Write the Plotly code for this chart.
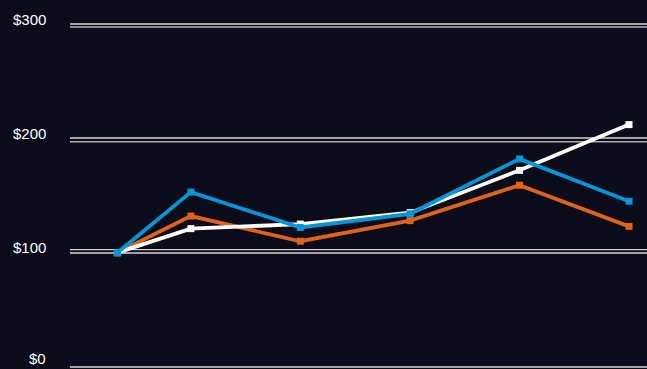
import plotly.graph_objects as go

periods = ["2018-04-30", "2018-12-31", "2019-12-31", "2020-12-31", "2021-12-31", "2022-12-31"]
series_white = [100, 121, 125, 135, 172, 212]
series_blue = [100, 153, 122, 134, 182, 145]
series_orange = [100, 132, 110, 128, 159, 123]
tick_vals = [0, 100, 200, 300]
tick_text = ["$0", "$100", "$200", "$300"]

BG = "#0b0b1a"
fig = go.Figure()

def add(vals, color):
    fig.add_trace(go.Scatter(
        x=periods, y=vals, mode="lines+markers",
        line=dict(color=color, width=3.8),
        marker=dict(symbol="square", size=7, color=color),
        showlegend=False, hoverinfo="skip"))

add(series_orange, "#e0621c")
add(series_white, "#ffffff")
add(series_blue, "#0096d8")

# white companion lines next to grid lines (pixel offsets, negative = below)
offsets = {300: -3, 200: -3.5, 100: 3, 0: -3}
for v, label in zip(tick_vals, tick_text):
    fig.add_shape(type="line", xref="paper", x0=0, x1=1, yref="y",
                  ysizemode="pixel", yanchor=v, y0=offsets[v], y1=offsets[v],
                  line=dict(color="#ffffff", width=1), layer="below")
    if v == 0:
        anchor, shift = "bottom", -1
    else:
        anchor, shift = "middle", 5
    fig.add_annotation(xref="paper", x=0, xanchor="right", xshift=-23,
                       yref="y", y=v, yanchor=anchor, yshift=shift, showarrow=False,
                       text=label, borderpad=0,
                       font=dict(family="Liberation Sans, Arial", size=15, color="#ffffff"))

fig.update_layout(
    width=647, height=369,
    paper_bgcolor=BG, plot_bgcolor=BG,
    margin=dict(l=70, r=0, t=20, b=0),
    xaxis=dict(range=["2017-11-23", "2023-03-01"], showgrid=False, showticklabels=False,
               zeroline=False, showline=False, ticks=""),
    yaxis=dict(range=[-1.75, 303.5], tickvals=tick_vals, showticklabels=False,
               showgrid=True, gridcolor="#a3a3a3", gridwidth=1.5, zeroline=False,
               showline=False, ticks=""),
)

fig.write_html("out.html", config={"displayModeBar": False},
               post_script="document.body.style.margin='0px';document.body.style.background='#0b0b1a';")
